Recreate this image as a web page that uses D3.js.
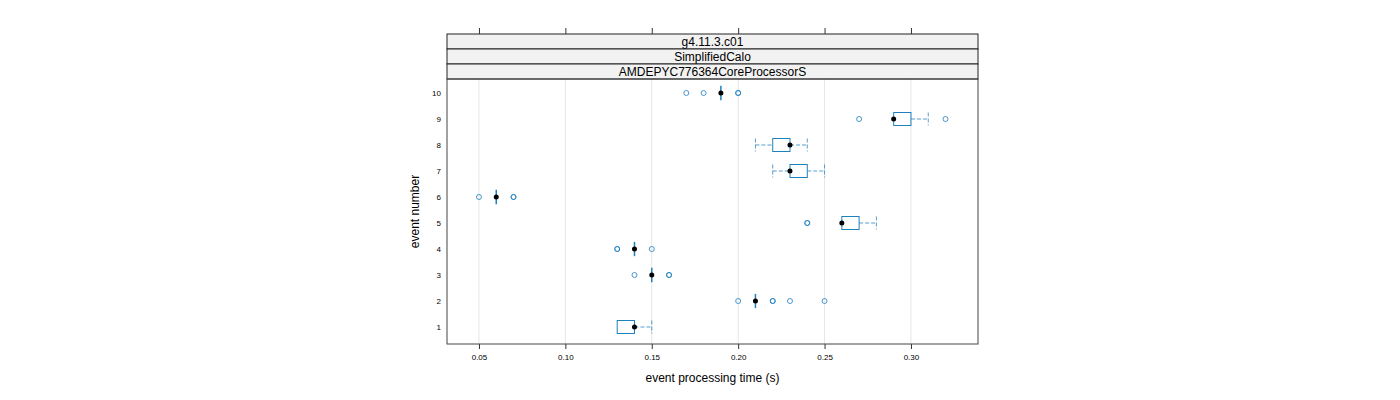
<!DOCTYPE html>
<html><head><meta charset="utf-8">
<script src="https://cdn.jsdelivr.net/npm/d3@7"></script>
<style>body{margin:0;background:#fff;} svg{display:block;font-family:"Liberation Sans",Arial,sans-serif;}</style>
</head><body>
<svg id="c" width="1400" height="400"></svg>
<script>
// Data: per event: [lower whisker, Q1, median, Q3, upper whisker] and outliers
const events = [1,2,3,4,5,6,7,8,9,10];
const stats = [
  [0.13,0.13,0.14,0.14,0.15],
  [0.21,0.21,0.21,0.21,0.21],
  [0.15,0.15,0.15,0.15,0.15],
  [0.14,0.14,0.14,0.14,0.14],
  [0.26,0.26,0.26,0.27,0.28],
  [0.06,0.06,0.06,0.06,0.06],
  [0.22,0.23,0.23,0.24,0.25],
  [0.21,0.22,0.23,0.23,0.24],
  [0.29,0.29,0.29,0.30,0.31],
  [0.19,0.19,0.19,0.19,0.19]
];
const outliers = [
  [],
  [0.20,0.22,0.22,0.23,0.25],
  [0.14,0.16,0.16],
  [0.13,0.13,0.15],
  [0.24,0.24],
  [0.05,0.07,0.07],
  [],
  [],
  [0.27,0.32],
  [0.17,0.18,0.20,0.20]
];
const xTicks = [0.05,0.10,0.15,0.20,0.25,0.30];
const strips = ["g4.11.3.c01","SimplifiedCalo","AMDEPYC776364CoreProcessorS"];

(function(){
const svg = d3.select("#c");
const L=447,R=978,T=79,B=344;
const x = d3.scaleLinear().domain([0.0315,0.3388]).range([L,R]);
const y = d3.scaleLinear().domain([1,10]).range([327,93]);
const col = "#1f80c0";
const boxH = y(0)-y(0.5);

svg.append("g").selectAll("line").data(xTicks).join("line")
  .attr("x1",d=>x(d)).attr("x2",d=>x(d)).attr("y1",T).attr("y2",B)
  .attr("stroke","#e6e6e6").attr("stroke-width",1);

const sh = 15;
strips.forEach((s,i)=>{
  const y0 = T - sh*(strips.length-i);
  svg.append("rect").attr("x",L).attr("y",y0).attr("width",R-L).attr("height",sh)
    .attr("fill","#f2f2f2").attr("stroke","#222").attr("stroke-width",1);
  svg.append("text").attr("x",(L+R)/2).attr("y",y0+sh/2+4.5).attr("text-anchor","middle")
    .attr("font-size",12).attr("fill","#000").text(s);
});

const axB = d3.axisBottom(x).tickValues(xTicks).tickFormat(d3.format(".2f")).tickSize(5).tickPadding(5);
const gb = svg.append("g").attr("transform",`translate(0,${B})`).call(axB);
gb.select(".domain").remove();
gb.selectAll("text").attr("font-size",8).attr("font-family","Liberation Sans, Arial, sans-serif");
gb.selectAll("line").attr("stroke","#333");

const axT = d3.axisTop(x).tickValues(xTicks).tickFormat("").tickSize(6);
const gt = svg.append("g").attr("transform",`translate(0,${T-sh*3})`).call(axT);
gt.select(".domain").remove();
gt.selectAll("line").attr("stroke","#333");

const axL = d3.axisLeft(y).tickValues(events).tickFormat(d3.format("d")).tickSize(0).tickPadding(6);
const gl = svg.append("g").attr("transform",`translate(${L},0)`).call(axL);
gl.select(".domain").remove();
gl.selectAll("text").attr("font-size",8).attr("font-family","Liberation Sans, Arial, sans-serif");

svg.append("rect").attr("x",L).attr("y",T).attr("width",R-L).attr("height",B-T)
  .attr("fill","none").attr("stroke","#444").attr("stroke-width",1);

const g = svg.append("g");
events.forEach((e,i)=>{
  const [lo,q1,md,q3,hi] = stats[i];
  const cy = y(e);
  const um = g.append("g").attr("stroke",col).attr("stroke-width",1).attr("stroke-dasharray","4,2").attr("opacity",0.75);
  if (lo<q1){
    um.append("line").attr("x1",x(lo)).attr("x2",x(q1)).attr("y1",cy).attr("y2",cy);
    um.append("line").attr("x1",x(lo)).attr("x2",x(lo)).attr("y1",cy-boxH/2).attr("y2",cy+boxH/2);
  }
  if (hi>q3){
    um.append("line").attr("x1",x(q3)).attr("x2",x(hi)).attr("y1",cy).attr("y2",cy);
    um.append("line").attr("x1",x(hi)).attr("x2",x(hi)).attr("y1",cy-boxH/2).attr("y2",cy+boxH/2);
  }
  if (q3>q1){
    g.append("rect").attr("x",x(q1)).attr("y",cy-boxH/2).attr("width",x(q3)-x(q1)).attr("height",boxH)
      .attr("fill","none").attr("stroke",col).attr("stroke-width",1);
  } else {
    g.append("line").attr("x1",x(q1)).attr("x2",x(q1)).attr("y1",cy-boxH*0.55).attr("y2",cy+boxH*0.55)
      .attr("stroke",col).attr("stroke-width",1.5);
  }
  g.append("g").selectAll("circle").data(outliers[i]).join("circle")
    .attr("cx",d=>x(d)).attr("cy",cy).attr("r",2.5)
    .attr("fill","none").attr("stroke",col).attr("stroke-width",1).attr("stroke-opacity",0.8);
  g.append("circle").attr("cx",x(md)).attr("cy",cy).attr("r",2.5).attr("fill","#000");
});

svg.append("text").attr("x",(L+R)/2).attr("y",382).attr("text-anchor","middle").attr("font-size",12).text("event processing time (s)");
svg.append("text").attr("transform",`translate(419,${(T+B)/2}) rotate(-90)`).attr("text-anchor","middle").attr("font-size",12).text("event number");
})();
</script>
</body></html>
